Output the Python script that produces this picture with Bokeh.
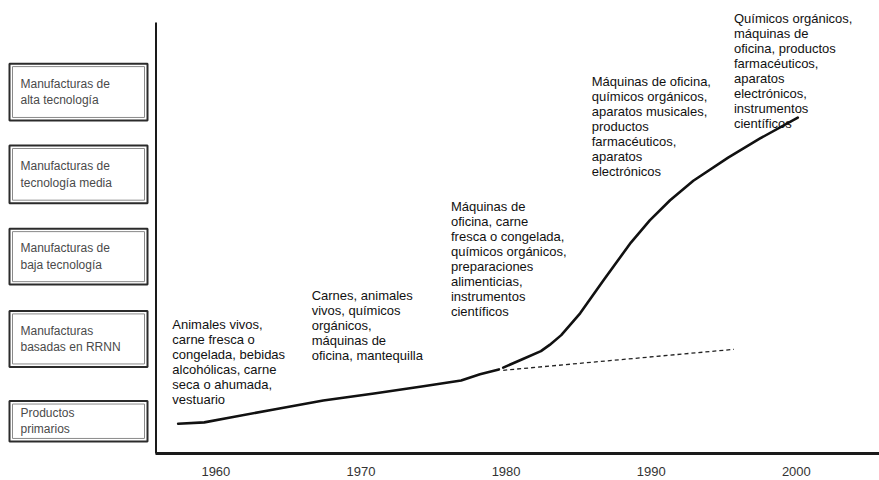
from bokeh.plotting import figure
from bokeh.models import Range1d, FixedTicker, LinearAxis
from bokeh.layouts import row
from bokeh.embed import file_html
from bokeh.resources import INLINE
from bokeh.core.properties import value

# ---------------- data ----------------
tick_years = [1960, 1970, 1980, 1990, 2000]
tick_labels = ["1960", "1970", "1980", "1990", "2000"]

# export sophistication index (arbitrary units)
lower_years = [1957.4, 1959.2, 1961.0, 1964.0, 1967.4, 1970.9, 1974.3, 1976.9, 1978.2, 1979.5]
lower_vals = [6.7, 7.0, 8.1, 9.9, 11.9, 13.5, 15.1, 16.4, 17.8, 18.9]

upper_years = [1979.8, 1981.2, 1982.4, 1983.0, 1983.8, 1985.1, 1986.7, 1988.6, 1989.9,
               1991.3, 1992.9, 1995.3, 1997.5, 2000.1]
upper_vals = [19.3, 21.3, 23.0, 24.4, 26.6, 31.5, 38.9, 47.4, 52.4, 56.9, 61.3, 66.5, 70.8, 75.5]

trend_years = [1979.8, 1995.7]
trend_vals = [18.7, 23.4]

tier_names = [
    "Productos\nprimarios",
    "Manufacturas\nbasadas en RRNN",
    "Manufacturas de\nbaja tecnología",
    "Manufacturas de\ntecnología media",
    "Manufacturas de\nalta tecnología",
]
tier_levels = [0, 1, 2, 3, 4]

export_texts = [
    "Animales vivos,\ncarne fresca o\ncongelada, bebidas\nalcohólicas, carne\nseca o ahumada,\nvestuario",
    "Carnes, animales\nvivos, químicos\norgánicos,\nmáquinas de\noficina, mantequilla",
    "Máquinas de\noficina, carne\nfresca o congelada,\nquímicos orgánicos,\npreparaciones\nalimenticias,\ninstrumentos\ncientíficos",
    "Máquinas de oficina,\nquímicos orgánicos,\naparatos musicales,\nproductos\nfarmacéuticos,\naparatos\nelectrónicos",
    "Químicos orgánicos,\nmáquinas de\noficina, productos\nfarmacéuticos,\naparatos\nelectrónicos,\ninstrumentos\ncientíficos",
]

# ---------------- layout / style ----------------
FONT = value("Liberation Sans")
note_x = [1957.0, 1966.6, 1976.2, 1985.9, 1995.7]
note_y = [30.6, 37.2, 57.2, 85.3, 99.4]
box_heights = [0.49, 0.68, 0.68, 0.70, 0.69]

# left panel with category boxes
left = figure(width=155, height=480, x_range=Range1d(-8, 147), y_range=Range1d(-0.392, 5.015),
              x_axis_type=None, y_axis_type=None, output_backend="svg", toolbar_location=None,
              min_border_left=0, min_border_right=0, min_border_top=8, min_border_bottom=27)
left.outline_line_color = None
left.grid.visible = False
bottoms = [lv - h / 2 for lv, h in zip(tier_levels, box_heights)]
tops = [lv + h / 2 for lv, h in zip(tier_levels, box_heights)]
left.quad(left=1, right=139, bottom=bottoms, top=tops, fill_color="white",
          line_color="#2b2b2b", line_width=2)
left.quad(left=4, right=136, bottom=[b + 0.036 for b in bottoms], top=[t - 0.036 for t in tops],
          fill_color=None, line_color="#8a8a8a", line_width=1)
left.text(x=12, y=tier_levels, text=tier_names, text_font=FONT, text_font_size="12px",
          text_baseline="middle", text_align="left", text_line_height=1.17, text_color="#4a4a4a")

# main chart
p = figure(width=724, height=480, x_range=Range1d(1955.84, 2005.73), y_range=Range1d(0, 100),
           y_axis_type=None, output_backend="svg", toolbar_location=None,
           min_border_left=0, min_border_right=0, min_border_top=8, min_border_bottom=27)
p.outline_line_color = None
p.grid.visible = False

yax = LinearAxis(ticker=FixedTicker(ticks=[]), bounds=(0, 96.9))
yax.axis_line_width = 3
yax.axis_line_color = "#1a1a1a"
yax.major_tick_out = 0
yax.major_tick_in = 0
yax.minor_tick_out = 0
yax.minor_tick_in = 0
yax.major_label_standoff = 0
p.add_layout(yax, "left")

xax = p.xaxis[0]
xax.ticker = FixedTicker(ticks=tick_years)
xax.major_label_overrides = {t: l for t, l in zip(tick_years, tick_labels)}
xax.axis_line_width = 3
xax.axis_line_color = "#1a1a1a"
xax.major_tick_out = 0
xax.major_tick_in = 0
xax.minor_tick_out = 0
xax.minor_tick_in = 0
xax.major_label_standoff = 13
xax.major_label_text_font = "Liberation Sans"
xax.major_label_text_font_size = "13px"
xax.major_label_text_color = "#333333"

p.line(lower_years, lower_vals, line_width=2.6, line_color="#111111", line_cap="round",
       line_join="round")
p.line(upper_years, upper_vals, line_width=2.6, line_color="#111111", line_cap="round",
       line_join="round")
p.line(trend_years, trend_vals, line_width=1.3, line_color="#222222", line_dash="4 3")

p.text(x=note_x, y=note_y, text=export_texts, text_font=FONT, text_font_size="13px",
       text_baseline="top", text_align="left", text_line_height=1.0, text_color="#111111")

layout = row(left, p)
open("out.html", "w").write(file_html(layout, INLINE))
